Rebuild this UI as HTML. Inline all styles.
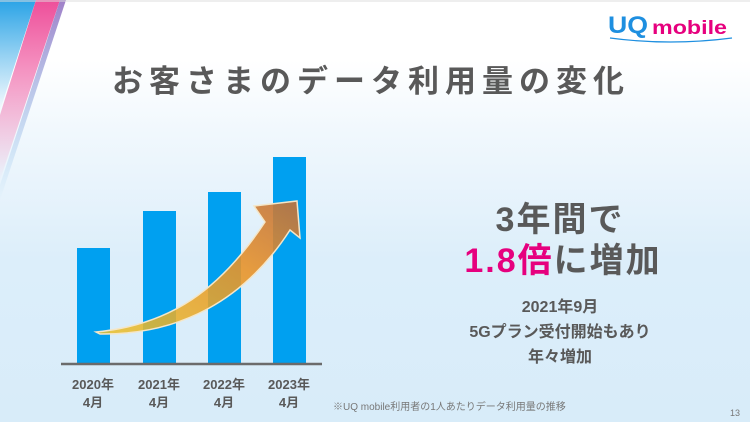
<!DOCTYPE html>
<html><head><meta charset="utf-8"><style>
body{margin:0}
#p{position:relative;width:750px;height:422px;overflow:hidden;background:linear-gradient(#fff 0px,#fff 60px,#f1f8fd 130px,#dceefa 260px,#d8ecf9 422px);font-family:"Liberation Sans","Noto Sans CJK JP",sans-serif;color:#595959}
.t{position:absolute;white-space:nowrap;font-weight:bold}
</style></head><body><div id="p">
<svg width="750" height="422" style="position:absolute;left:0;top:0">
<defs>
<linearGradient id="s1" x1="0" y1="0" x2="0" y2="1"><stop offset="0" stop-color="#2aa3e6"/><stop offset="1" stop-color="#2aa3e6" stop-opacity="0"/></linearGradient>
<linearGradient id="s2" x1="0" y1="0" x2="0" y2="1"><stop offset="0" stop-color="#ee4f9a"/><stop offset="1" stop-color="#ee4f9a" stop-opacity="0"/></linearGradient>
<linearGradient id="s3" x1="0" y1="0" x2="0" y2="1"><stop offset="0" stop-color="#a080c8"/><stop offset="1" stop-color="#6ab8ea" stop-opacity="0"/></linearGradient>
<linearGradient id="ar" x1="0" y1="1" x2="1" y2="0"><stop offset="0" stop-color="#e9c22a" stop-opacity="0.85"/><stop offset="0.6" stop-color="#e8942a" stop-opacity="0.9"/><stop offset="1" stop-color="#c0703a" stop-opacity="0.9"/></linearGradient>
</defs>
<polygon points="0,0 36,0 0,110" fill="url(#s1)"/>
<polygon points="36,0 60,0 0,180 0,115" fill="url(#s2)"/>
<polygon points="60,0 66,0 0,200 0,185" fill="url(#s3)"/>
<line x1="0" y1="1" x2="750" y2="1" stroke="#ddd"/>
<rect x="77" y="248" width="33" height="116" fill="#00a0f0"/>
<rect x="143" y="211" width="33" height="153" fill="#00a0f0"/>
<rect x="208" y="192" width="33" height="172" fill="#00a0f0"/>
<rect x="273" y="157" width="33" height="207" fill="#00a0f0"/>
<line x1="61" y1="364" x2="322" y2="364" stroke="#6b6b6b" stroke-width="2.5"/>
<path d="M96,332 C170,325 220,290 265,222 L254,206 L297,201 L300,238 L290,230 C245,300 180,335 100,334 Z" fill="url(#ar)" stroke="#f4e6c8" stroke-width="1.5"/>
<text x="608" y="33" font-family="Liberation Sans" font-weight="bold" font-size="24" fill="#1e8fe0" textLength="40" lengthAdjust="spacingAndGlyphs">UQ</text>
<text x="652" y="34" font-family="Liberation Sans" font-weight="bold" font-size="19" fill="#e6007e" textLength="75" lengthAdjust="spacingAndGlyphs">mobile</text>
<path d="M610,38 Q670,46 732,38" stroke="#1e8fe0" stroke-width="1.2" fill="none"/>
</svg>
<div class="t" style="left:112px;top:56px;font-size:31px;letter-spacing:6px">お客さまのデータ利用量の変化</div>
<div class="t" style="left:460px;width:200px;text-align:center;top:192px;font-size:34px;letter-spacing:2px">3年間で</div>
<div class="t" style="left:458px;width:210px;text-align:center;top:233px;font-size:34px;letter-spacing:2px"><span style="color:#e6007e">1.8倍</span>に増加</div>
<div class="t" style="left:460px;width:200px;text-align:center;top:295px;font-size:16px;line-height:25px">2021年9月<br>5Gプラン受付開始もあり<br>年々増加</div>
<div class="t" style="left:63px;width:60px;text-align:center;top:376px;font-size:13px;line-height:18px">2020年<br>4月</div>
<div class="t" style="left:129px;width:60px;text-align:center;top:376px;font-size:13px;line-height:18px">2021年<br>4月</div>
<div class="t" style="left:194px;width:60px;text-align:center;top:376px;font-size:13px;line-height:18px">2022年<br>4月</div>
<div class="t" style="left:259px;width:60px;text-align:center;top:376px;font-size:13px;line-height:18px">2023年<br>4月</div>
<div class="t" style="left:333px;top:398px;font-size:10px;font-weight:normal;color:#777">※UQ mobile利用者の1人あたりデータ利用量の推移</div>
<div class="t" style="left:730px;top:408px;font-size:9px;font-weight:normal;color:#777">13</div>
</div></body></html>
